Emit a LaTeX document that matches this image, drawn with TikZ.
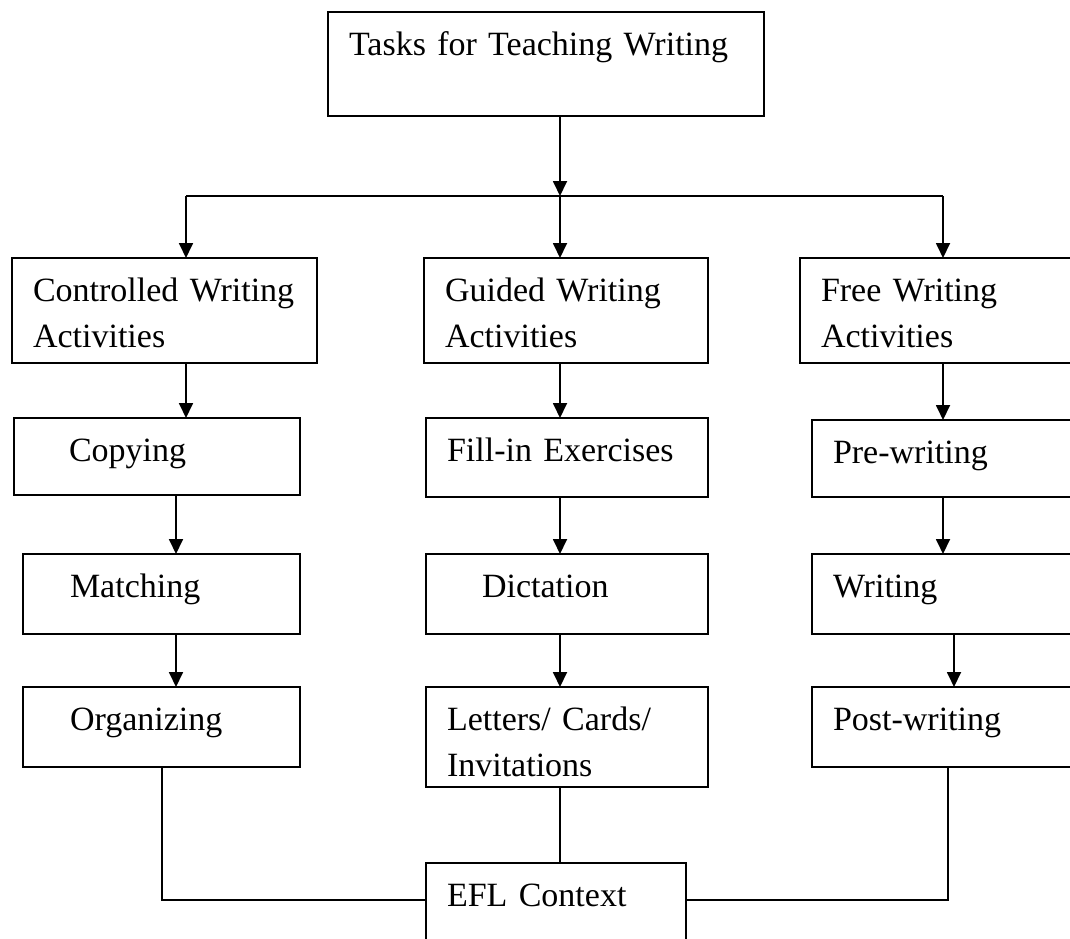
\documentclass[tikz,border=0pt]{standalone}
\usepackage{fontspec}
\setmainfont{Liberation Serif}
\usetikzlibrary{arrows.meta}

\begin{document}
\begin{tikzpicture}[x=1pt,y=-1pt,line width=1.8pt,>={Triangle[length=15pt,width=14pt]}]
    \tikzstyle{task}=[draw,anchor=north west,align=left,inner xsep=21pt,inner ysep=0pt,outer sep=0pt,
      text height=43pt,font=\fontsize{34}{46}\selectfont]
    \useasboundingbox (0,0) rectangle (1070,938);
    \clip (0,0) rectangle (1070,938);
    % heading
    \node[task,text width=394pt,text depth=61pt] (tasks) at (328,12) {Tasks for Teaching Writing};
    % three kinds of activities
    \node[task,text width=263pt,text depth=62pt] (cw) at (12,258) {Controlled Writing\\Activities};
    \node[task,text width=242pt,text depth=62pt] (gw) at (424,258) {Guided Writing\\Activities};
    \node[task,text width=248pt,text depth=62pt] (fw) at (800,258) {Free Writing\\Activities};
    % controlled
    \node[task,text width=244pt,text depth=34pt] (copy) at (14,418) {\hspace*{34pt}Copying};
    \node[task,text width=235pt,text depth=37pt] (match) at (23,554) {\hspace*{26pt}Matching};
    \node[task,text width=235pt,text depth=37pt] (org) at (23,687) {\hspace*{26pt}Organizing};
    % guided
    \node[task,text width=240pt,text depth=36pt] (fill) at (426,418) {Fill-in Exercises};
    \node[task,text width=240pt,text depth=37pt] (dict) at (426,554) {\hspace*{35pt}Dictation};
    \node[task,text width=240pt,text depth=57pt] (lett) at (426,687) {Letters/ Cards/\\Invitations};
    % free
    \node[task,text width=236pt,text depth=34pt] (pre) at (812,420) {Pre-writing};
    \node[task,text width=236pt,text depth=37pt] (writ) at (812,554) {Writing};
    \node[task,text width=236pt,text depth=37pt] (post) at (812,687) {Post-writing};
    % context
    \node[task,text width=218pt,text depth=54pt] (efl) at (426,863) {EFL Context};

    \coordinate (barL) at (186,196);
    \coordinate (barM) at (560,196);
    \coordinate (barR) at (943,196);
    \coordinate (colL) at (176,0);
    \coordinate (colR) at (954,0);
    \coordinate (footL) at (162,900);
    \coordinate (footR) at (948,900);

    \draw[->] (tasks.south -| barM) -- (barM);
    \draw (barL) -- (barR);
    \foreach \b/\n in {barL/cw,barM/gw,barR/fw}
      \draw[->] (\b) -- (\b |- \n.north);
    % left column
    \draw[->] (cw.south -| barL) -- (copy.north -| barL);
    \draw[->] (copy.south -| colL) -- (match.north -| colL);
    \draw[->] (match.south -| colL) -- (org.north -| colL);
    % middle column
    \foreach \a/\n in {gw/fill,fill/dict,dict/lett}
      \draw[->] (\a.south -| barM) -- (\n.north -| barM);
    % right column
    \draw[->] (fw.south -| barR) -- (pre.north -| barR);
    \draw[->] (pre.south -| barR) -- (writ.north -| barR);
    \draw[->] (writ.south -| colR) -- (post.north -| colR);
    % to the context
    \draw (org.south -| footL) -- (footL) -- (efl.west |- footL);
    \draw (lett.south -| barM) -- (efl.north -| barM);
    \draw (post.south -| footR) -- (footR) -- (efl.east |- footR);
\end{tikzpicture}
\end{document}
